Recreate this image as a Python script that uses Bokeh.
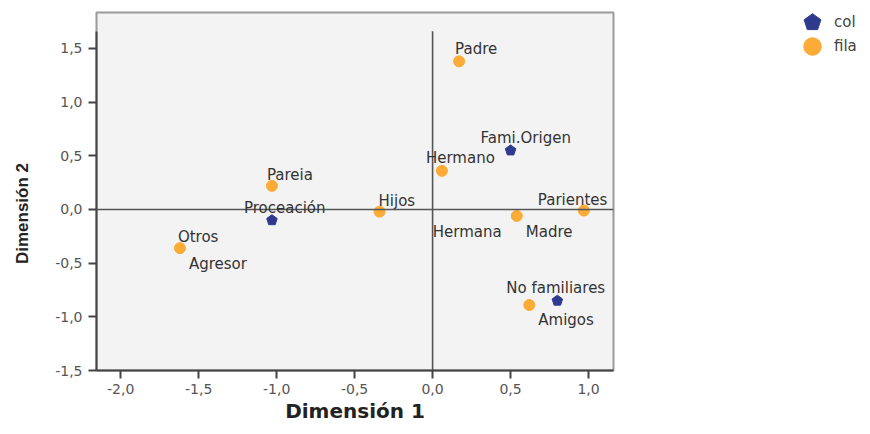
import math
from bokeh.plotting import figure
from bokeh.layouts import row
from bokeh.models import (ColumnDataSource, LabelSet, Label, Span, Legend, LegendItem,
                          FixedTicker, CustomJSTickFormatter, Range1d)
from bokeh.core.properties import value
from bokeh.embed import file_html
from bokeh.resources import INLINE

# ---- data -------------------------------------------------------------
fila_names = ["Padre", "Hermano", "Pareia", "Hijos", "Hermana", "Parientes", "Otros", "Amigos"]
fila_x = [0.17, 0.06, -1.03, -0.34, 0.54, 0.97, -1.62, 0.62]
fila_y = [1.38, 0.36, 0.22, -0.02, -0.06, -0.01, -0.36, -0.89]

col_names = ["Fami.Origen", "Proceación", "No familiares"]
col_x = [0.50, -1.03, 0.80]
col_y = [0.55, -0.10, -0.85]

# labels (text, which point they belong to)
label_text = ["Padre", "Fami.Origen", "Hermano", "Pareia", "Proceación", "Hijos",
              "Hermana", "Madre", "Parientes", "Otros", "Agresor", "No familiares", "Amigos"]
label_x = [0.17, 0.50, 0.06, -1.03, -1.03, -0.34, 0.54, 0.54, 0.97, -1.62, -1.62, 0.80, 0.62]
label_y = [1.38, 0.55, 0.36, 0.22, -0.10, -0.02, -0.06, -0.06, -0.01, -0.36, -0.36, -0.85, -0.89]
# label offsets in screen pixels (style, not data)
label_dx = [-4, -30, -16, -5, -28, -1, -84, 9, -46, -2, 9, -51, 9]
label_dy = [12, 12, 13, 11, 12, 11, -16, -16, 11, 11, -16, 13, -15]

x_ticks = [-2.0, -1.5, -1.0, -0.5, 0.0, 0.5, 1.0]
y_ticks = [-1.5, -1.0, -0.5, 0.0, 0.5, 1.0, 1.5]

x_title = "Dimensión 1"
y_title = "Dimensión 2"
legend_labels = ["col", "fila"]

BLUE = "#2f3a8f"
ORANGE = "#fbab36"
H = 426
TOP = 12          # frame top (px)
BOTTOM = 56       # space under the frame (px)
FRAME_BOTTOM = H - BOTTOM

# ---- main plot ----------------------------------------------------------
p = figure(width=590, height=H, output_backend="svg", toolbar_location=None,
           x_range=(-2.155, 1.16), y_range=(-1.5, 1.835),
           min_border_left=56, min_border_right=17, min_border_top=TOP,
           min_border_bottom=BOTTOM)
p.background_fill_color = "#f3f3f3"
p.border_fill_color = "white"
p.outline_line_color = "#9a9a9a"
p.outline_line_width = 2
p.grid.visible = False

# reference lines through the origin
p.segment(x0=[0], y0=[-1.5], x1=[0], y1=[1.66], line_color="#555555", line_width=1.6)
p.add_layout(Span(location=0, dimension="width", line_color="#555555", line_width=1.6))

fila_src = ColumnDataSource(dict(x=fila_x, y=fila_y))
col_src = ColumnDataSource(dict(x=col_x, y=col_y))
HAS_NGON = hasattr(p, "ngon")


def add_fila(fig):
    return fig.scatter("x", "y", source=fila_src, marker="circle", size=11,
                       fill_color=ORANGE, line_color=ORANGE)


def add_col(fig):
    if HAS_NGON:
        return fig.ngon("x", "y", source=col_src, radius=5.5, radius_units="screen", n=5,
                        fill_color=BLUE, line_color=BLUE)
    return fig.scatter("x", "y", source=col_src, marker="hex", size=10,
                       fill_color=BLUE, line_color=BLUE)


add_fila(p)
add_col(p)

lab_src = ColumnDataSource(dict(x=label_x, y=label_y, t=label_text, dx=label_dx, dy=label_dy))
p.add_layout(LabelSet(x="x", y="y", text="t", x_offset="dx", y_offset="dy", source=lab_src,
                      text_font=value("DejaVu Sans"), text_font_size="15px",
                      text_color="#333333", text_align="left", text_baseline="middle"))

for ax in (p.xaxis[0], p.yaxis[0]):
    ax.axis_line_color = "#444444"
    ax.axis_line_width = 2
    ax.major_tick_line_color = "#444444"
    ax.major_tick_line_width = 2
    ax.major_tick_out = 8
    ax.major_tick_in = 0
    ax.minor_tick_line_color = None
    ax.major_label_text_font = "DejaVu Sans"
    ax.major_label_text_font_size = "14px"
    ax.major_label_text_color = "#555555"
    ax.axis_label_text_font_style = "bold"
    ax.axis_label_text_color = "#222222"

fmt = CustomJSTickFormatter(code="return tick.toFixed(1).replace('.', ',');")
p.xaxis.ticker = FixedTicker(ticks=x_ticks)
p.yaxis.ticker = FixedTicker(ticks=y_ticks)
p.xaxis.formatter = fmt
p.yaxis.formatter = fmt
p.yaxis.bounds = (-1.5, 1.66)
p.xaxis.axis_label = x_title
p.xaxis.axis_label_text_font = "DejaVu Sans"
p.xaxis.axis_label_text_font_size = "20px"
p.xaxis.axis_label_standoff = 2
p.xaxis.major_label_standoff = 5
p.yaxis.major_label_standoff = 6

# ---- left strip holding the vertical axis title -----------------------------
# (its frame is aligned with the main frame by the row layout)
left = figure(width=40, height=H, output_backend="svg", toolbar_location=None,
              x_axis_type=None, y_axis_type=None, min_border=0,
              x_range=Range1d(0, 1), y_range=Range1d(0, 1))
left.outline_line_color = None
left.grid.visible = False
left.add_layout(Label(x=22, y=FRAME_BOTTOM - 213, x_units="screen", y_units="screen",
                      text=y_title, angle=math.pi / 2, text_align="center",
                      text_baseline="middle", text_font="Liberation Sans",
                      text_font_style="bold", text_font_size="17px", text_color="#222222"))

# ---- right strip holding the legend -----------------------------------------
# the same series are drawn here with ranges that keep them out of view, so the
# legend has real renderers to take its symbols from
leg = figure(width=232, height=H, output_backend="svg", toolbar_location=None,
             x_axis_type=None, y_axis_type=None, min_border=0,
             x_range=Range1d(10, 11), y_range=Range1d(10, 11))
leg.outline_line_color = None
leg.grid.visible = False
lr_col = add_col(leg)
lr_fila = add_fila(leg)

leg_style = dict(orientation="vertical", glyph_width=44, glyph_height=48, padding=0,
                 margin=0, label_standoff=0, label_text_font="DejaVu Sans",
                 label_text_font_size="15px", label_text_color="#444444",
                 border_line_color=None, background_fill_alpha=0)
leg.add_layout(Legend(items=[LegendItem(label=legend_labels[0], renderers=[lr_col])],
                      location=(160, FRAME_BOTTOM - 46), **leg_style))
leg.add_layout(Legend(items=[LegendItem(label=legend_labels[1], renderers=[lr_fila])],
                      location=(160, FRAME_BOTTOM - 70), **leg_style))

layout = row(left, p, leg)
open("out.html", "w").write(file_html(layout, INLINE))
